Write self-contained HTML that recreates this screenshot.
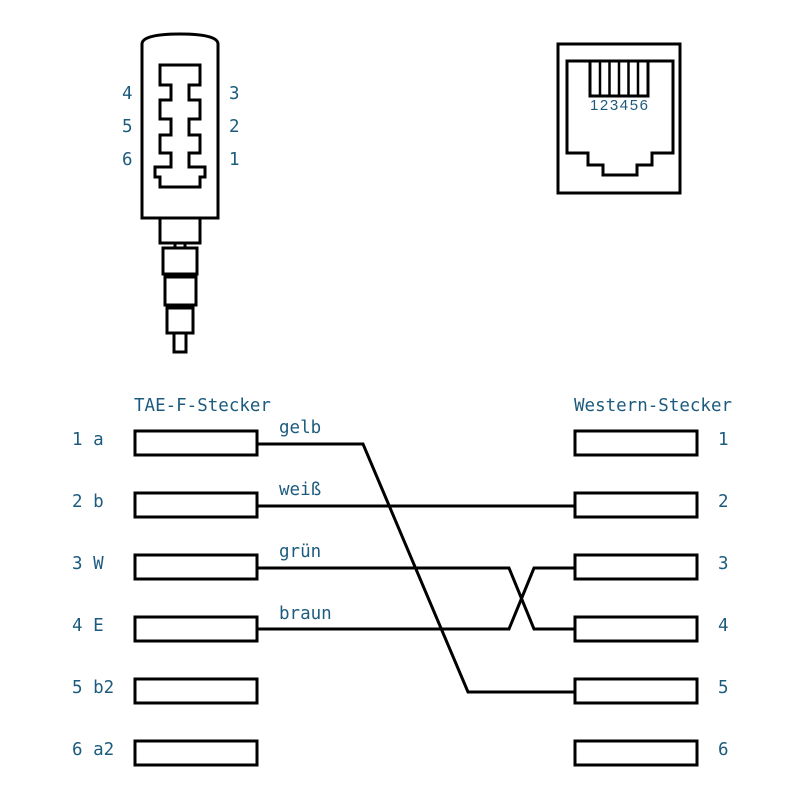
<!DOCTYPE html>
<html><head><meta charset="utf-8"><style>
html,body{margin:0;padding:0;background:#fff;}
svg{display:block;}
text{font-family:"DejaVu Sans Mono","Liberation Mono",monospace;fill:#1d5b7e;font-size:17.5px;}
</style></head><body>
<svg width="800" height="800" viewBox="0 0 800 800" xmlns="http://www.w3.org/2000/svg">
<g fill="none" stroke="#000" stroke-width="3" stroke-linejoin="miter">
<path d="M142,218 L142,44 Q142,34 180,34 Q218,34 218,44 L218,218 Z"/>
<path d="M160,65 L200,65 L200,85 L189,85 L189,100 L200,100 L200,119 L189,119 L189,135 L200,135 L200,153 L189,153 L189,167 L205,167 L205,177 L200,177 L200,187 L160,187 L160,177 L155,177 L155,167 L171,167 L171,153 L160,153 L160,135 L171,135 L171,119 L160,119 L160,100 L171,100 L171,85 L160,85 Z"/>
<rect x="160" y="218" width="40" height="25"/>
<rect x="175" y="243" width="10" height="5"/>
<rect x="163" y="248" width="34" height="26"/>
<rect x="175" y="274" width="10" height="3"/>
<rect x="165" y="277" width="31" height="28"/>
<rect x="175" y="305" width="10" height="3"/>
<rect x="167" y="308" width="26" height="25"/>
<rect x="174" y="333" width="12" height="19"/>
<rect x="558" y="44" width="122" height="149"/>
<path d="M567,61 L673,61 L673,153 L652,153 L652,165 L637,165 L637,175 L603,175 L603,165 L588,165 L588,153 L567,153 Z"/>
<rect x="590" y="61" width="58" height="35"/>
<path d="M600,61 V96 M609.5,61 V96 M619,61 V96 M628.5,61 V96 M638,61 V96" stroke-width="2.5"/>
<rect x="135" y="431" width="122" height="24"/>
<rect x="135" y="493" width="122" height="24"/>
<rect x="135" y="555" width="122" height="24"/>
<rect x="135" y="617" width="122" height="24"/>
<rect x="135" y="679" width="122" height="24"/>
<rect x="135" y="741" width="122" height="24"/>
<rect x="575" y="431" width="122" height="24"/>
<rect x="575" y="493" width="122" height="24"/>
<rect x="575" y="555" width="122" height="24"/>
<rect x="575" y="617" width="122" height="24"/>
<rect x="575" y="679" width="122" height="24"/>
<rect x="575" y="741" width="122" height="24"/>
<path d="M257,444 L363,444 L468,692 L575,692"/>
<path d="M257,506 L575,506"/>
<path d="M257,568 L509,568 L534,629 L575,629"/>
<path d="M257,629 L509,629 L534,568 L575,568"/>
</g>
<text x="122" y="99">4</text><text x="122" y="132">5</text><text x="122" y="165">6</text>
<text x="229" y="99">3</text><text x="229" y="132">2</text><text x="229" y="165">1</text>
<text x="590" y="110" style="font-family:'Liberation Sans',sans-serif;font-size:15px" textLength="58">123456</text>
<text x="134" y="411">TAE-F-Stecker</text>
<text x="574" y="411">Western-Stecker</text>
<text x="72" y="445">1 a</text>
<text x="72" y="507">2 b</text>
<text x="72" y="569">3 W</text>
<text x="72" y="631">4 E</text>
<text x="72" y="693">5 b2</text>
<text x="72" y="755">6 a2</text>
<text x="718" y="445">1</text>
<text x="718" y="507">2</text>
<text x="718" y="569">3</text>
<text x="718" y="631">4</text>
<text x="718" y="693">5</text>
<text x="718" y="755">6</text>
<text x="279" y="433">gelb</text>
<text x="279" y="495">weiß</text>
<text x="279" y="557">grün</text>
<text x="279" y="619">braun</text>
</svg>
</body></html>
